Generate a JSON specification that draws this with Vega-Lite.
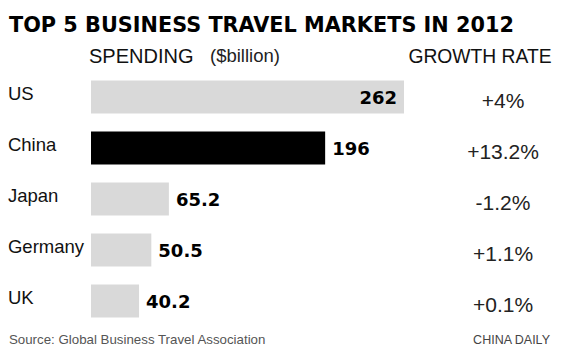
{
  "$schema": "https://vega.github.io/schema/vega-lite/v6.json",
  "width": 563,
  "height": 356,
  "autosize": {"type": "none"},
  "padding": 0,
  "background": "white",
  "config": {"view": {"stroke": null}},
  "title": {
    "text": "TOP 5 BUSINESS TRAVEL MARKETS IN 2012",
    "anchor": "start",
    "orient": "top",
    "baseline": "alphabetic",
    "offset": -53,
    "dx": 9,
    "font": "DejaVu Sans",
    "fontSize": 20.8,
    "fontWeight": "bold",
    "color": "#000"
  },
  "datasets": {
    "header": [{"row": "hdr", "label": "SPENDING"}],
    "unit": [{"row": "hdr", "label": "($billion)"}],
    "growthHead": [{"row": "hdr", "label": "GROWTH RATE"}],
    "source": [{"row": "ftr", "label": "Source: Global Business Travel Association"}],
    "credit": [{"row": "ftr", "label": "CHINA DAILY"}]
  },
  "data": {
    "values": [
      {"row": "US", "spending": 262, "value": "262", "growth": "+4%"},
      {"row": "China", "spending": 196, "value": "196", "growth": "+13.2%"},
      {"row": "Japan", "spending": 65.2, "value": "65.2", "growth": "-1.2%"},
      {"row": "Germany", "spending": 50.5, "value": "50.5", "growth": "+1.1%"},
      {"row": "UK", "spending": 40.2, "value": "40.2", "growth": "+0.1%"}
    ]
  },
  "encoding": {
    "y": {
      "field": "row",
      "type": "nominal",
      "scale": {
        "domain": ["hdr", "US", "China", "Japan", "Germany", "UK", "ftr"],
        "range": [20.5, 377.5],
        "paddingInner": 0.35,
        "paddingOuter": 0.175
      },
      "axis": null
    }
  },
  "layer": [
    {
      "mark": {"type": "bar"},
      "encoding": {
        "x": {"field": "spending", "type": "quantitative", "scale": {"domain": [0, 262], "range": [91, 404], "nice": false, "zero": false}, "axis": null},
        "x2": {"datum": 0},
        "color": {"condition": {"test": "datum.row === 'China'", "value": "#000000"}, "value": "#d9d9d9"}
      }
    },
    {
      "transform": [{"filter": "datum.row === 'US'"}],
      "mark": {"type": "text", "align": "right", "baseline": "middle", "dx": -7, "dy": 2, "font": "DejaVu Sans", "fontSize": 18, "fontWeight": "bold", "color": "#000"},
      "encoding": {
        "x": {"field": "spending", "type": "quantitative"},
        "text": {"field": "value"}
      }
    },
    {
      "transform": [{"filter": "datum.row !== 'US'"}],
      "mark": {"type": "text", "align": "left", "baseline": "middle", "dx": 7, "dy": 2, "font": "DejaVu Sans", "fontSize": 18, "fontWeight": "bold", "color": "#000"},
      "encoding": {
        "x": {"field": "spending", "type": "quantitative"},
        "text": {"field": "value"}
      }
    },
    {
      "mark": {"type": "text", "align": "left", "baseline": "middle", "dy": -3, "font": "Liberation Sans", "fontSize": 18.5, "color": "#111"},
      "encoding": {
        "x": {"datum": -69.5, "type": "quantitative"},
        "text": {"field": "row"}
      }
    },
    {
      "mark": {"type": "text", "align": "center", "baseline": "middle", "dy": 5, "font": "Liberation Sans", "fontSize": 21, "color": "#222"},
      "encoding": {
        "x": {"datum": 344.9, "type": "quantitative"},
        "text": {"field": "growth"}
      }
    },
    {
      "data": {"name": "header"},
      "mark": {"type": "text", "align": "left", "baseline": "middle", "dy": 10.5, "font": "Liberation Sans", "fontSize": 20, "color": "#111"},
      "encoding": {
        "x": {"datum": -1.7, "type": "quantitative"},
        "text": {"field": "label"}
      }
    },
    {
      "data": {"name": "unit"},
      "mark": {"type": "text", "align": "left", "baseline": "middle", "dy": 10, "font": "Liberation Sans", "fontSize": 18.5, "color": "#222"},
      "encoding": {
        "x": {"datum": 99.6, "type": "quantitative"},
        "text": {"field": "label"}
      }
    },
    {
      "data": {"name": "growthHead"},
      "mark": {"type": "text", "align": "center", "baseline": "middle", "dy": 10.5, "font": "Liberation Sans", "fontSize": 19.3, "color": "#111"},
      "encoding": {
        "x": {"datum": 325.6, "type": "quantitative"},
        "text": {"field": "label"}
      }
    },
    {
      "data": {"name": "source"},
      "mark": {"type": "text", "align": "left", "baseline": "middle", "dy": -12.5, "font": "Liberation Sans", "fontSize": 13.3, "color": "#555"},
      "encoding": {
        "x": {"datum": -68.7, "type": "quantitative"},
        "text": {"field": "label"}
      }
    },
    {
      "data": {"name": "credit"},
      "mark": {"type": "text", "align": "right", "baseline": "middle", "dy": -12, "font": "Liberation Sans", "fontSize": 12.5, "color": "#444"},
      "encoding": {
        "x": {"datum": 384.2, "type": "quantitative"},
        "text": {"field": "label"}
      }
    }
  ]
}
